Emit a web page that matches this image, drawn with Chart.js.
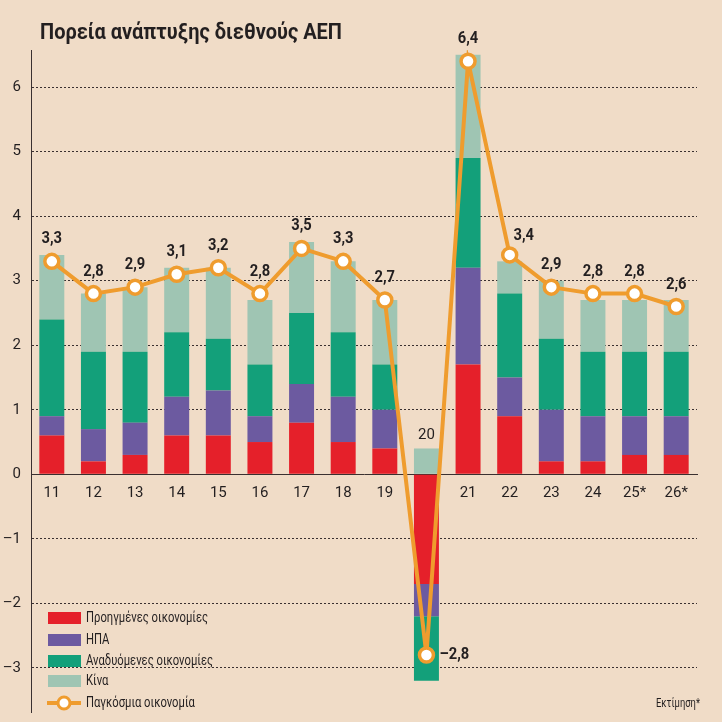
<!DOCTYPE html>
<html><head><meta charset="utf-8">
<script src="https://cdn.jsdelivr.net/npm/chart.js@4"></script>
<style>
html,body{margin:0;padding:0;background:#F0DCC7;}
#wrap{position:relative;width:722px;height:722px;background:#F0DCC7;overflow:hidden;}
#title{position:absolute;left:40px;top:19px;font-family:Roboto,"Liberation Sans",sans-serif;font-weight:bold;font-size:22px;line-height:26px;color:#231F20;white-space:nowrap;transform-origin:0 0;}
#note{position:absolute;left:656px;top:696px;font-family:Roboto,"Liberation Sans",sans-serif;font-size:12px;line-height:14px;color:#231F20;white-space:nowrap;transform-origin:0 0;}
canvas{position:absolute;left:0;top:0;}
</style></head><body>
<div id="wrap"><canvas id="c" width="722" height="722"></canvas>
<div id="title">Πορεία ανάπτυξης διεθνούς ΑΕΠ</div>
<div id="note">Εκτίμηση*</div></div>
<script>
const years = ['11','12','13','14','15','16','17','18','19','20','21','22','23','24','25*','26*'];
const advanced = [0.6,0.2,0.3,0.6,0.6,0.5,0.8,0.5,0.4,-1.7,1.7,0.9,0.2,0.2,0.3,0.3];
const usa      = [0.3,0.5,0.5,0.6,0.7,0.4,0.6,0.7,0.6,-0.5,1.5,0.6,0.8,0.7,0.6,0.6];
const emerging = [1.5,1.2,1.1,1.0,0.8,0.8,1.1,1.0,0.7,-1.0,1.7,1.3,1.1,1.0,1.0,1.0];
const china    = [1.0,0.9,1.0,1.0,1.1,1.0,1.1,1.1,1.0,0.4,1.6,0.5,0.9,0.8,0.8,0.8];
const world    = [3.3,2.8,2.9,3.1,3.2,2.8,3.5,3.3,2.7,-2.8,6.4,3.4,2.9,2.8,2.8,2.6];
const yTicks   = [-3,-2,-1,0,1,2,3,4,5,6];
const seriesNames = ['Προηγμένες οικονομίες','ΗΠΑ','Αναδυόμενες οικονομίες','Κίνα','Παγκόσμια οικονομία'];

function fitWidth(id, w){ const el = document.getElementById(id); const r = el.getBoundingClientRect().width; el.style.transform = 'scaleX(' + (w / r) + ')'; }
fitWidth('title', 302);
fitWidth('note', 44);

const COL = {red:'#E5202A', purple:'#6C5AA0', green:'#13A07A', light:'#9FC5B3', orange:'#EF9C2E', text:'#231F20'};
const FONT = 'Roboto, "Liberation Sans", sans-serif';
const fmt = v => String(v).replace('.', ',').replace('-', '–');

const bar = (label, data, color) => ({type:'bar', label, data, backgroundColor:color, borderWidth:0,
  barPercentage:0.6, categoryPercentage:1.0, order:2, stack:'s'});

function squeezed(ctx, text, x, y, sx){
  ctx.save(); ctx.translate(x, y); ctx.scale(sx, 1); ctx.fillText(text, 0, 0); ctx.restore();
}

const labelPlugin = {
  id:'labels',
  afterDatasetsDraw(chart){
    const ctx = chart.ctx;
    const meta = chart.getDatasetMeta(4);
    ctx.save();
    ctx.fillStyle = COL.text;
    ctx.font = 'bold 16px ' + FONT;
    ctx.textBaseline = 'middle';
    meta.data.forEach((p, i) => {
      let x = p.x, y = p.y - 22, align = 'center';
      if (world[i] < 0) { x = p.x + 13; y = p.y; align = 'left'; }
      else if (i === 11) { x = p.x + 14; y = p.y - 19; }
      ctx.textAlign = align;
      squeezed(ctx, fmt(world[i]), x, y, 0.92);
    });
    const ys = chart.scales.y, xs = chart.scales.x;
    const idx = years.indexOf('20');
    ctx.font = '15px ' + FONT;
    ctx.textAlign = 'center';
    ctx.fillText(years[idx], xs.getPixelForValue(idx), ys.getPixelForValue(china[idx]) - 13);
    ctx.restore();
  },
  afterDraw(chart){
    const ctx = chart.ctx;
    const ca = chart.chartArea;
    ctx.save();
    ctx.strokeStyle = '#3a3030'; ctx.lineWidth = 1;
    ctx.beginPath(); ctx.moveTo(ca.left + 0.5, ca.bottom); ctx.lineTo(ca.left + 0.5, 713); ctx.stroke();

    const rows = [618, 640, 661, 681, 703];
    const cols = [COL.red, COL.purple, COL.green, COL.light];
    ctx.font = '15px ' + FONT;
    ctx.textBaseline = 'middle';
    ctx.textAlign = 'left';
    const sx = 127 / ctx.measureText(seriesNames[2]).width;
    rows.forEach((y, i) => {
      if (i < 4) {
        ctx.fillStyle = cols[i];
        ctx.fillRect(48, y - 6, 33, 12);
      } else {
        ctx.strokeStyle = COL.orange; ctx.lineWidth = 4;
        ctx.beginPath(); ctx.moveTo(47, y); ctx.lineTo(81, y); ctx.stroke();
        ctx.beginPath(); ctx.arc(64, y, 6, 0, Math.PI*2);
        ctx.fillStyle = '#fff'; ctx.fill(); ctx.lineWidth = 3; ctx.stroke();
      }
      ctx.fillStyle = COL.text;
      squeezed(ctx, seriesNames[i], 86, y, sx);
    });
    ctx.restore();
  }
};

new Chart(document.getElementById('c'), {
  data: {
    labels: years,
    datasets: [
      bar(seriesNames[0], advanced, COL.red),
      bar(seriesNames[1], usa, COL.purple),
      bar(seriesNames[2], emerging, COL.green),
      bar(seriesNames[3], china, COL.light),
      {type:'line', label: seriesNames[4], data: world, borderColor: COL.orange, borderWidth: 4,
       tension: 0, pointRadius: 7, pointBorderWidth: 3.5, pointBackgroundColor:'#fff',
       pointBorderColor: COL.orange, order: 0, stack:'line'}
    ]
  },
  options: {
    responsive: false, animation: false, devicePixelRatio: 1,
    layout: {padding: {top: 50, right: 25, bottom: 9, left: 0}},
    plugins: {legend: {display: false}, tooltip: {enabled: false}},
    scales: {
      x: {
        stacked: true, position: {y: 0}, offset: true,
        grid: {display: false, drawTicks: false},
        border: {display: true, color: '#3a3030', width: 1},
        ticks: {color: COL.text, font: {family: FONT, size: 15}, padding: 10, maxRotation: 0, autoSkip: false,
                callback: (v, i) => years[i] === '20' ? '' : years[i]}
      },
      y: {
        stacked: true, min: -3.544, max: 6.575,
        afterFit: s => { s.width = 31; },
        afterBuildTicks: s => { s.ticks = yTicks.map(v => ({value: v})); },
        grid: {drawTicks: false, lineWidth: 1,
               color: c => c.tick && c.tick.value === 0 ? 'rgba(0,0,0,0)' : '#3a3030'},
        border: {display: true, color: '#3a3030', width: 1, dash: [2, 2]},
        ticks: {color: COL.text, font: {family: FONT, size: 15}, padding: 10,
                callback: v => fmt(v)}
      }
    }
  },
  plugins: [labelPlugin]
});
</script>
</body></html>
